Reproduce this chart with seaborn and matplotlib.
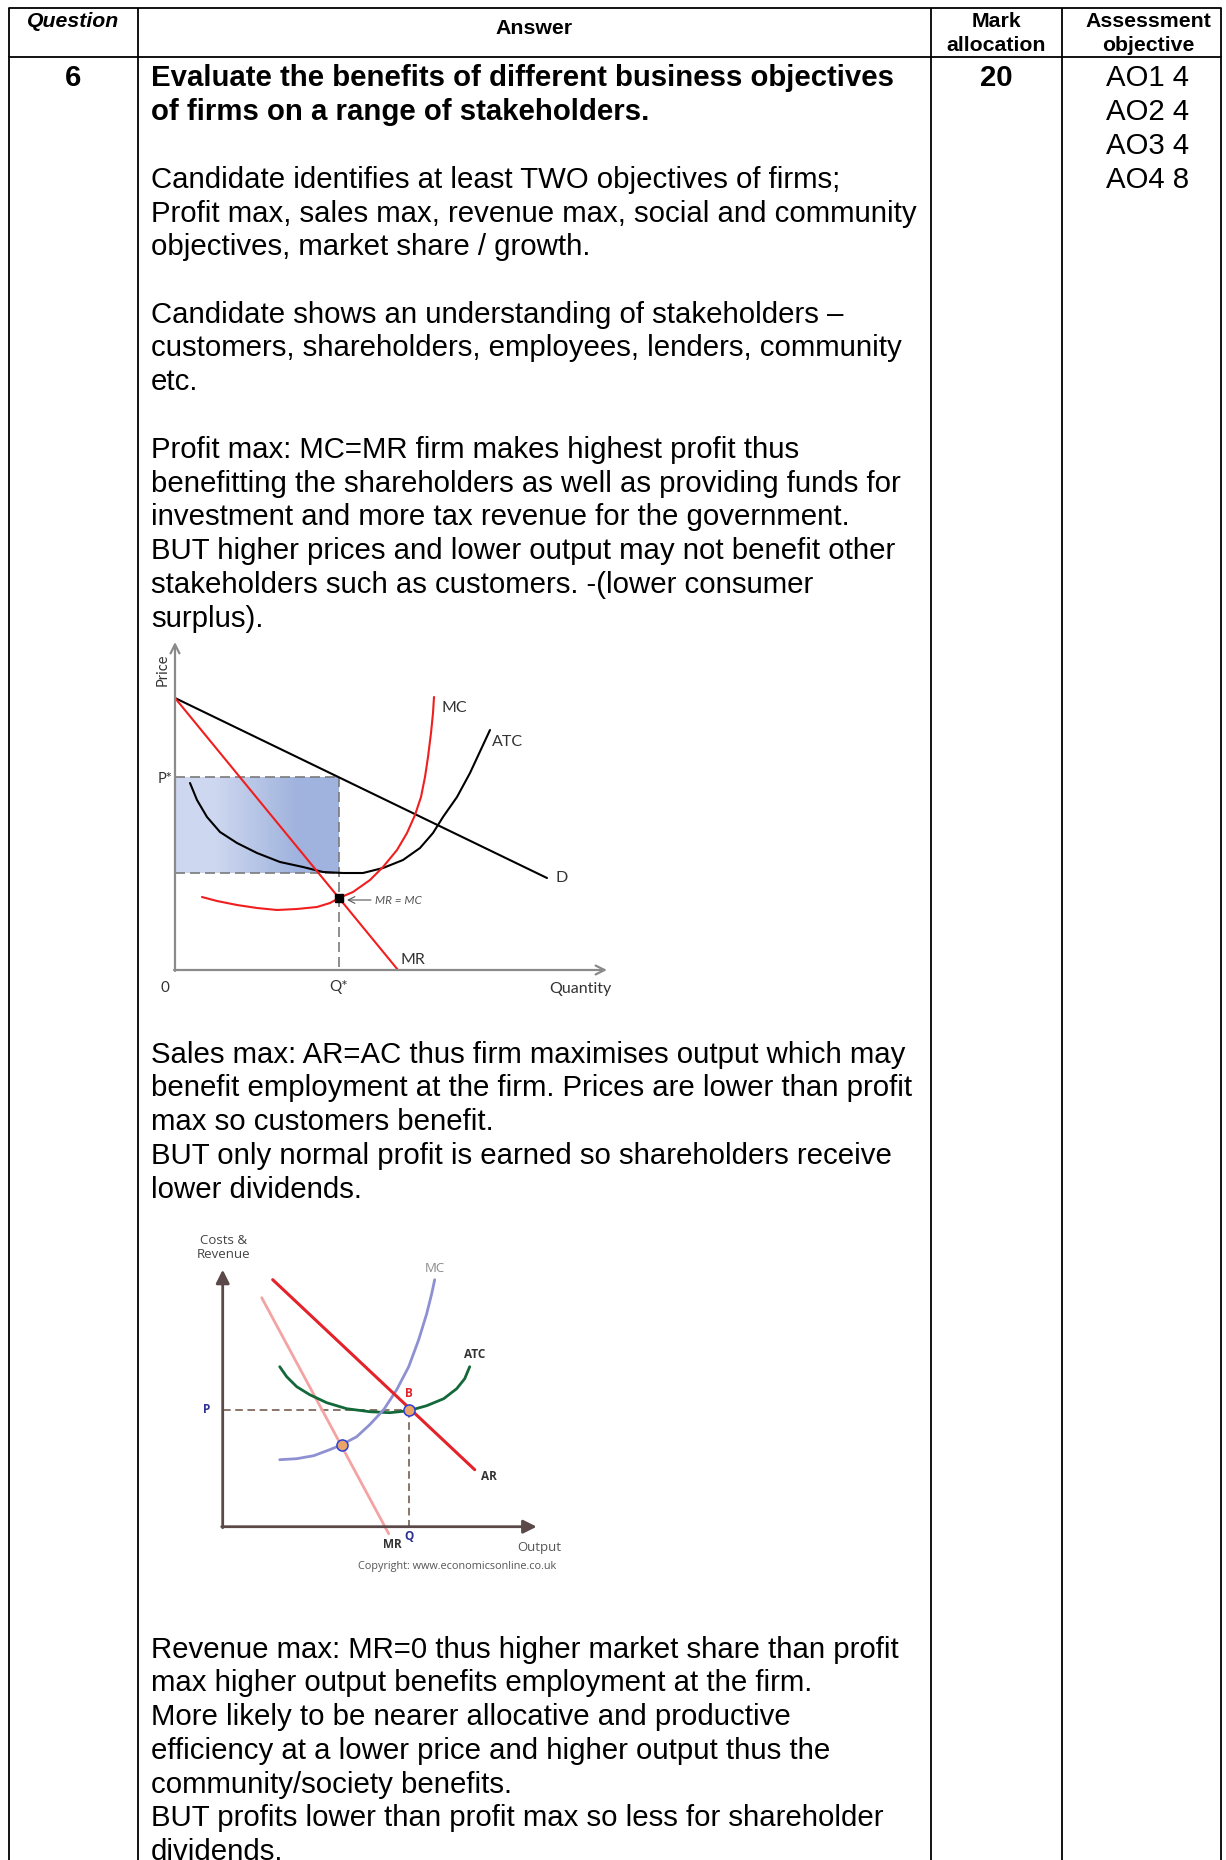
import numpy as np
import matplotlib
matplotlib.use("Agg")
import matplotlib.pyplot as plt
import seaborn as sns
from matplotlib.colors import LinearSegmentedColormap

W, H = 1226, 1860
DPI = 100

sns.set_theme(style="white")
plt.rcParams['font.family'] = ['Liberation Sans', 'DejaVu Sans']
plt.rcParams['text.color'] = 'black'

# ---- table layout (pixels) ----
col_edges = [9, 137.5, 931, 1062, 1221]
table_top = 8
header_bottom = 57

question_no = "6"
marks = "20"
ao_lines = ["AO1 4", "AO2 4", "AO3 4", "AO4 8"]

block1 = ["Evaluate the benefits of different business objectives",
          "of firms on a range of stakeholders.",
          "",
          "Candidate identifies at least TWO objectives of firms;",
          "Profit max, sales max, revenue max, social and community",
          "objectives, market share / growth.",
          "",
          "Candidate shows an understanding of stakeholders \u2013",
          "customers, shareholders, employees, lenders, community",
          "etc.",
          "",
          "Profit max: MC=MR firm makes highest profit thus",
          "benefitting the shareholders as well as providing funds for",
          "investment and more tax revenue for the government.",
          "BUT higher prices and lower output may not benefit other",
          "stakeholders such as customers. -(lower consumer",
          "surplus)."]
block2 = ["Sales max: AR=AC thus firm maximises output which may",
          "benefit employment at the firm. Prices are lower than profit",
          "max so customers benefit.",
          "BUT only normal profit is earned so shareholders receive",
          "lower dividends."]
block3 = ["Revenue max: MR=0 thus higher market share than profit",
          "max higher output benefits employment at the firm.",
          "More likely to be nearer allocative and productive",
          "efficiency at a lower price and higher output thus the",
          "community/society benefits.",
          "BUT profits lower than profit max so less for shareholder",
          "dividends."]

# ---- diagram 1 (profit max), units = pixels from origin ----
d_q = [0, 372]
d_p = [272, 92]
mr1_q = [0, 223]
mr1_p = [272, 0]
atc1_q = [15, 22, 32, 45, 62, 82, 105, 128, 148, 168, 188, 208, 228, 245, 258, 268, 282, 295, 315]
atc1_p = [187, 170, 153, 138, 127, 117, 108, 103, 98, 97, 97, 102, 110, 122, 137, 153, 173, 197, 240]
mc1_q = [27, 42, 62, 82, 102, 122, 142, 155, 164, 178, 195, 208, 222, 232, 240, 246, 250, 253, 256, 258, 259]
mc1_p = [73, 69, 65, 62, 60, 61, 63, 67, 72, 78, 90, 103, 120, 137, 155, 173, 193, 213, 237, 257, 273]
q_star, p_star, atc_at_q = 164, 193, 97
mr_mc_p = 72

# ---- diagram 2 (sales max) ----
ar_q = [50, 252]
ar_p = [247, 57]
mr2_q = [39, 166]
mr2_p = [229, -7]
atc2_q = [57, 64, 74, 87, 104, 124, 147, 167, 186, 204, 221, 234, 242, 247]
atc2_p = [160, 150, 140, 132, 124, 118, 115, 114, 116, 121, 128, 138, 148, 160]
mc2_q = [57, 74, 91, 107, 119, 134, 147, 161, 174, 186, 196, 204, 209, 212]
mc2_p = [67, 68, 71, 77, 82, 90, 102, 117, 137, 160, 187, 213, 233, 247]
pts2_q = [186, 119]
pts2_p = [117, 82]
q2, p2 = 186, 117

fig = plt.figure(figsize=(W / DPI, H / DPI), dpi=DPI)
bg = fig.add_axes([0, 0, 1, 1])
bg.set_xlim(0, W)
bg.set_ylim(H, 0)
bg.axis('off')

# table grid
for x in col_edges:
    bg.plot([x, x], [table_top, H], color='black', lw=1.3, solid_capstyle='butt')
for y in [table_top, header_bottom]:
    bg.plot([col_edges[0], col_edges[-1]], [y, y], color='black', lw=1.3)

HDR = 15.3
BODY = 21.2
ao_x = 1148
bg.text(73, 27, "Question", fontsize=HDR, fontweight='bold', style='italic', ha='center', va='baseline')
bg.text(534, 34, "Answer", fontsize=HDR, fontweight='bold', ha='center', va='baseline')
bg.text(996.5, 27, "Mark", fontsize=HDR, fontweight='bold', ha='center', va='baseline')
bg.text(996.5, 51, "allocation", fontsize=HDR, fontweight='bold', ha='center', va='baseline')
bg.text(ao_x, 27, "Assessment", fontsize=HDR, fontweight='bold', ha='center', va='baseline')
bg.text(ao_x, 51, "objective", fontsize=HDR, fontweight='bold', ha='center', va='baseline')

step = 33.75
off = 10.5
bg.text(73, 76 + off, question_no, fontsize=BODY, fontweight='bold', ha='center', va='baseline')
bg.text(996.5, 76 + off, marks, fontsize=BODY, fontweight='bold', ha='center', va='baseline')
for i, s in enumerate(ao_lines):
    bg.text(ao_x, 76 + i * step + off, s, fontsize=BODY, ha='center', va='baseline')

for start, lines, nbold in [(76, block1, 2), (1052, block2, 0), (1647, block3, 0)]:
    for i, s in enumerate(lines):
        bg.text(151, start + i * step + off, s, fontsize=BODY, ha='left', va='baseline',
                fontweight='bold' if i < nbold else 'normal')


def diagram_axes(ox, oy, xmin, xmax, ymin, ymax):
    ax = fig.add_axes([(ox + xmin) / W, 1 - (oy - ymin) / H, (xmax - xmin) / W, (ymax - ymin) / H])
    ax.axis('off')
    return ax, (xmin, xmax, ymin, ymax)


def curve(ax, x, y, color, lw, z=3):
    sns.lineplot(x=x, y=y, ax=ax, color=color, linewidth=lw, sort=False, estimator=None, zorder=z)


# ---------------- diagram 1 ----------------
ax1, lim1 = diagram_axes(175, 970, -40, 460, -45, 345)
shade = LinearSegmentedColormap.from_list('shade', ['#cdd7ef', '#a0b3de'])
ax1.imshow([[0, 1]], cmap=shade, extent=(0, q_star, atc_at_q, p_star), aspect='auto',
           interpolation='bilinear', zorder=1)
dash_c = '#7a7a7a'
ax1.plot([0, q_star], [p_star, p_star], color=dash_c, lw=1.2, dashes=(6, 3), zorder=2)
ax1.plot([0, q_star], [atc_at_q, atc_at_q], color=dash_c, lw=1.2, dashes=(6, 3), zorder=2)
ax1.plot([q_star, q_star], [p_star, 0], color=dash_c, lw=1.2, dashes=(6, 3), zorder=2)
curve(ax1, d_q, d_p, 'black', 1.5)
curve(ax1, atc1_q, atc1_p, 'black', 1.5)
curve(ax1, mr1_q, mr1_p, '#f01e1e', 1.5)
curve(ax1, mc1_q, mc1_p, '#f01e1e', 1.5)
ax1.plot([q_star], [mr_mc_p], 's', color='black', ms=6, zorder=5)
ax_c = '#8a8a8a'
ax1.annotate('', xy=(0, 328), xytext=(0, -1), annotation_clip=False,
             arrowprops=dict(arrowstyle='->', color=ax_c, lw=1.6, mutation_scale=16, shrinkA=0, shrinkB=0))
ax1.annotate('', xy=(432, 0), xytext=(-1, 0), annotation_clip=False,
             arrowprops=dict(arrowstyle='->', color=ax_c, lw=1.6, mutation_scale=16, shrinkA=0, shrinkB=0))
ax1.annotate('', xy=(172, 70), xytext=(196, 70),
             arrowprops=dict(arrowstyle='->', color='#555555', lw=0.8, shrinkA=0, shrinkB=0))
f1 = ['Lato', 'DejaVu Sans']
tc1 = '#333333'
ax1.text(200, 70, "MR = MC", family=f1, fontsize=8.5, style='italic', color='#555555', va='center')
ax1.text(-12, 300, "Price", family=f1, fontsize=10.5, color=tc1, rotation=90, ha='center', va='center')
ax1.text(-10, 191, "P*", family=f1, fontsize=10.5, color=tc1, ha='center', va='center')
ax1.text(-10, -18, "0", family=f1, fontsize=11, color=tc1, ha='center', va='center')
ax1.text(q_star, -17, "Q*", family=f1, fontsize=11, color=tc1, ha='center', va='center')
ax1.text(405, -19, "Quantity", family=f1, fontsize=11.5, color=tc1, ha='center', va='center')
ax1.text(279, 262, "MC", family=f1, fontsize=11.5, color=tc1, ha='center', va='center')
ax1.text(333, 228, "ATC", family=f1, fontsize=11.5, color=tc1, ha='center', va='center')
ax1.text(387, 92, "D", family=f1, fontsize=11.5, color=tc1, ha='center', va='center')
ax1.text(238, 10, "MR", family=f1, fontsize=11.5, color=tc1, ha='center', va='center')
ax1.set_xlim(lim1[0], lim1[1])
ax1.set_ylim(lim1[2], lim1[3])

# ---------------- diagram 2 ----------------
ax2, lim2 = diagram_axes(222.7, 1526.7, -60, 345, -55, 300)
dash2 = '#6a5040'
ax2.plot([0, q2], [p2, p2], color=dash2, lw=1.1, dashes=(5, 3), zorder=2)
ax2.plot([q2, q2], [p2, 0], color=dash2, lw=1.1, dashes=(5, 3), zorder=2)
curve(ax2, mr2_q, mr2_p, '#f4a3a3', 2.0)
curve(ax2, atc2_q, atc2_p, '#13683a', 2.0)
curve(ax2, mc2_q, mc2_p, '#8e90d2', 2.0)
curve(ax2, ar_q, ar_p, '#e3222a', 2.2)
ax2.plot(pts2_q, pts2_p, 'o', ms=8, mfc='#eaa468', mec='#2b3fd6', mew=1.1, ls='none', zorder=6)
axc2 = '#5b4848'
ax2.annotate('', xy=(0, 257), xytext=(0, -1), annotation_clip=False,
             arrowprops=dict(arrowstyle='-|>', color=axc2, lw=2.0, mutation_scale=20, shrinkA=0, shrinkB=0))
ax2.annotate('', xy=(314, 0), xytext=(-1, 0), annotation_clip=False,
             arrowprops=dict(arrowstyle='-|>', color=axc2, lw=2.0, mutation_scale=20, shrinkA=0, shrinkB=0))
f2 = ['Open Sans', 'DejaVu Sans']
ax2.text(0.6, 279, "Costs &\nRevenue", family=f2, fontsize=9.5, color='#444444', ha='center', va='center',
         linespacing=1.05)
ax2.text(212, 258, "MC", family=f2, fontsize=9.5, color='#8a8a8a', ha='center', va='center')
ax2.text(252, 172, "ATC", family=f2, fontsize=8.5, fontweight='bold', color='#333333', ha='center', va='center')
ax2.text(q2, 133, "B", family=f2, fontsize=8.5, fontweight='bold', color='#e3222a', ha='center', va='center')
ax2.text(-16, p2, "P", family=f2, fontsize=8.5, fontweight='bold', color='#2e3192', ha='center', va='center')
ax2.text(266, 50, "AR", family=f2, fontsize=8.5, fontweight='bold', color='#333333', ha='center', va='center')
ax2.text(q2, -10, "Q", family=f2, fontsize=8.5, fontweight='bold', color='#2e3192', ha='center', va='center')
ax2.text(170, -18, "MR", family=f2, fontsize=8.5, fontweight='bold', color='#333333', ha='center', va='center')
ax2.text(317, -21, "Output", family=f2, fontsize=9.5, color='#555555', ha='center', va='center')
ax2.text(234, -40, "Copyright: www.economicsonline.co.uk", family=f2, fontsize=7.8, color='#555555',
         ha='center', va='center')
ax2.set_xlim(lim2[0], lim2[1])
ax2.set_ylim(lim2[2], lim2[3])

fig.savefig("out.png", dpi=DPI)
